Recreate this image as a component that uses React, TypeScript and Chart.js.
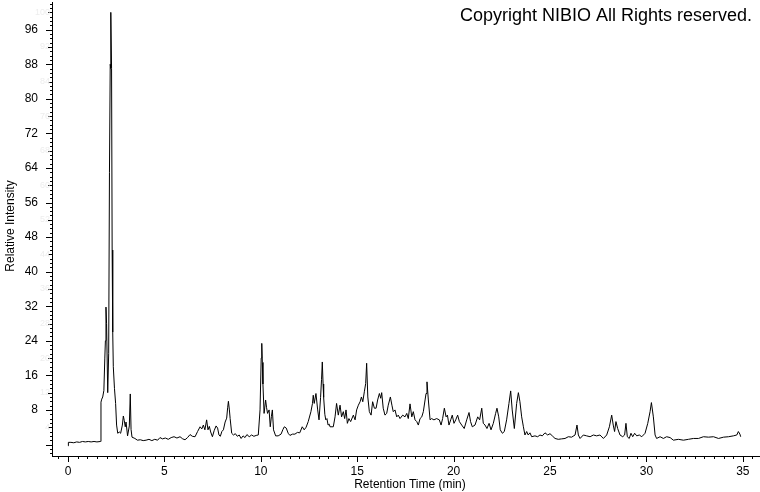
import React, { useEffect, useRef } from "react";
import { Chart, registerables } from "chart.js";

Chart.register(...registerables);

const retentionTime = [
  0.0, 0.02, 0.15, 0.3, 0.45, 0.6, 0.75, 0.9, 1.05, 1.2, 1.35, 1.5, 1.68, 1.71, 1.75, 1.8, 1.86, 1.91, 1.94, 1.97,
  2.0, 2.06, 2.11, 2.15, 2.19, 2.21, 2.23, 2.26, 2.29, 2.32, 2.35, 2.41, 2.47, 2.52, 2.58, 2.66, 2.73, 2.82, 2.87, 2.92,
  2.97, 3.01, 3.09, 3.18, 3.23, 3.27, 3.32, 3.47, 3.6, 3.75, 3.9, 4.05, 4.2, 4.35, 4.5, 4.65, 4.77, 4.9, 5.05, 5.2,
  5.35, 5.5, 5.65, 5.81, 5.95, 6.07, 6.2, 6.33, 6.45, 6.59, 6.72, 6.85, 6.94, 7.02, 7.1, 7.19, 7.26, 7.33, 7.4, 7.49,
  7.58, 7.68, 7.76, 7.83, 7.9, 7.98, 8.06, 8.15, 8.23, 8.28, 8.32, 8.37, 8.41, 8.49, 8.58, 8.68, 8.78, 8.88, 8.98, 9.08,
  9.18, 9.28, 9.4, 9.52, 9.64, 9.76, 9.87, 9.96, 10.02, 10.05, 10.08, 10.11, 10.17, 10.25, 10.3, 10.35, 10.43, 10.49, 10.55, 10.6,
  10.66, 10.77, 10.9, 11.05, 11.15, 11.22, 11.32, 11.42, 11.51, 11.64, 11.77, 11.9, 12.02, 12.15, 12.25, 12.35, 12.46, 12.6, 12.68, 12.72,
  12.77, 12.81, 12.86, 12.95, 13.02, 13.1, 13.15, 13.19, 13.23, 13.26, 13.32, 13.37, 13.43, 13.49, 13.55, 13.59, 13.76, 13.85, 13.93, 14.02,
  14.11, 14.19, 14.28, 14.35, 14.42, 14.49, 14.57, 14.66, 14.8, 14.89, 14.97, 15.06, 15.15, 15.22, 15.29, 15.37, 15.44, 15.49, 15.55, 15.63,
  15.72, 15.8, 15.89, 15.98, 16.06, 16.15, 16.22, 16.27, 16.35, 16.44, 16.53, 16.61, 16.72, 16.8, 16.87, 16.96, 17.05, 17.13, 17.22, 17.36,
  17.48, 17.57, 17.65, 17.74, 17.83, 17.91, 18.0, 18.09, 18.17, 18.26, 18.35, 18.43, 18.52, 18.57, 18.62, 18.69, 18.78, 18.86, 18.98, 19.12,
  19.26, 19.35, 19.43, 19.52, 19.61, 19.68, 19.76, 19.85, 19.93, 20.02, 20.11, 20.21, 20.3, 20.42, 20.55, 20.68, 20.8, 20.88, 20.97, 21.11,
  21.25, 21.35, 21.46, 21.54, 21.63, 21.73, 21.84, 21.94, 22.06, 22.18, 22.25, 22.34, 22.42, 22.53, 22.63, 22.75, 22.87, 22.96, 23.04, 23.15,
  23.27, 23.36, 23.44, 23.53, 23.62, 23.7, 23.79, 23.87, 23.96, 24.05, 24.22, 24.36, 24.48, 24.6, 24.74, 24.88, 25.0, 25.12, 25.26, 25.43,
  25.6, 25.78, 25.95, 26.12, 26.3, 26.4, 26.47, 26.56, 26.73, 26.9, 27.08, 27.25, 27.42, 27.59, 27.77, 27.94, 28.08, 28.2, 28.28, 28.35,
  28.42, 28.51, 28.63, 28.77, 28.87, 28.94, 29.01, 29.11, 29.2, 29.29, 29.39, 29.5, 29.63, 29.76, 29.93, 30.07, 30.19, 30.26, 30.36, 30.45,
  30.53, 30.71, 30.88, 31.05, 31.23, 31.4, 31.66, 31.92, 32.18, 32.44, 32.7, 32.96, 33.22, 33.48, 33.74, 34.0, 34.26, 34.51, 34.69, 34.77,
  34.85, 34.89,
];

const relativeIntensity = [
  -0.3, 0.5, 0.5, 0.4, 0.6, 0.5, 0.7, 0.6, 0.7, 0.6, 0.7, 0.6, 0.7, 9.8, 10.5, 11.0, 12.5, 20.0, 24.0, 31.8,
  28.0, 12.0, 21.0, 63.0, 88.0, 87.0, 100.0, 87.0, 45.0, 26.0, 18.0, 13.0, 9.5, 4.5, 2.6, 2.9, 2.6, 4.5, 6.6, 5.5,
  4.1, 5.2, 2.0, 4.3, 11.7, 3.5, 1.7, 1.4, 1.0, 1.1, 0.9, 1.0, 1.2, 0.9, 1.2, 1.0, 1.6, 1.3, 1.5, 1.2,
  1.6, 1.8, 1.5, 1.8, 1.3, 1.1, 1.6, 2.3, 1.9, 1.8, 3.0, 4.1, 3.6, 4.5, 3.4, 5.7, 3.4, 4.2, 2.9, 1.8,
  3.2, 4.3, 3.8, 2.2, 1.9, 3.0, 3.4, 5.2, 6.1, 8.5, 10.0, 8.0, 6.0, 2.6, 2.2, 2.5, 1.9, 2.2, 1.4, 2.0,
  1.6, 2.3, 1.8, 2.2, 1.9, 2.1, 2.2, 8.0, 20.0, 23.4, 19.0, 14.0, 7.2, 10.3, 8.5, 7.2, 8.0, 4.1, 6.5, 8.0,
  3.4, 2.0, 2.0, 2.4, 3.5, 4.1, 3.8, 2.6, 2.1, 2.4, 2.4, 2.8, 2.7, 4.1, 3.4, 4.0, 5.3, 7.6, 9.5, 11.4,
  9.5, 9.5, 11.8, 8.0, 5.7, 10.9, 15.0, 19.1, 14.0, 10.9, 7.0, 5.7, 6.0, 4.5, 4.7, 4.1, 4.1, 6.4, 9.5, 6.8,
  9.1, 6.4, 7.6, 6.0, 8.0, 4.9, 6.0, 5.3, 6.8, 5.7, 8.0, 9.1, 9.9, 11.0, 9.9, 12.2, 14.1, 18.8, 11.0, 7.6,
  6.8, 9.9, 8.4, 8.4, 10.3, 11.8, 10.7, 12.0, 8.4, 6.8, 7.2, 9.1, 11.0, 9.1, 7.6, 8.0, 6.4, 6.8, 6.0, 6.8,
  6.4, 7.2, 6.0, 9.4, 6.4, 7.6, 5.7, 5.3, 4.5, 6.0, 6.4, 7.6, 10.3, 11.8, 14.5, 10.3, 5.7, 6.0, 5.7, 6.0,
  5.7, 4.5, 6.0, 8.4, 6.4, 6.8, 4.5, 5.7, 6.8, 4.9, 5.7, 6.8, 5.3, 4.5, 3.7, 5.7, 7.4, 5.3, 4.1, 4.5,
  6.4, 5.7, 8.4, 4.9, 4.5, 3.7, 4.9, 3.4, 4.9, 7.2, 8.4, 6.4, 3.4, 2.6, 3.0, 5.7, 9.5, 12.4, 8.0, 3.7,
  9.5, 12.0, 9.9, 6.4, 4.1, 2.2, 3.0, 2.2, 2.7, 1.8, 2.0, 1.8, 2.2, 2.0, 2.7, 2.2, 2.5, 2.0, 1.4, 1.2,
  1.3, 1.4, 1.8, 1.7, 2.2, 4.5, 2.2, 1.4, 2.2, 2.0, 1.8, 2.2, 2.0, 2.2, 1.4, 2.2, 4.1, 6.8, 4.5, 3.0,
  5.3, 3.7, 2.2, 1.8, 2.2, 4.9, 1.8, 1.4, 2.6, 1.8, 2.6, 2.0, 2.2, 1.8, 2.6, 4.9, 7.6, 9.7, 6.4, 2.2,
  1.4, 1.8, 1.4, 1.8, 1.6, 1.0, 1.2, 1.0, 1.2, 1.4, 1.4, 1.8, 1.7, 1.8, 1.4, 1.7, 1.8, 2.0, 2.2, 3.0,
  2.4, 1.8,
];

const xTickValues = [0, 5, 10, 15, 20, 25, 30, 35];
const yTickValues = [8, 16, 24, 32, 40, 48, 56, 64, 72, 80, 88, 96];
const yGhostValues = [4, 12, 20, 28, 36, 44, 52, 60, 68, 76, 84, 92, 100];

const xTitle = "Retention Time (min)";
const yTitle = "Relative Intensity";
const copyrightText = "Copyright NIBIO All Rights reserved.";

const FONT = "'Liberation Sans', Arial, sans-serif";

const decorPlugin = {
  id: "decor",
  afterDraw(chart: any) {
    const ctx = chart.ctx;
    const xs = chart.scales.x;
    const ys = chart.scales.y;
    const area = chart.chartArea;
    ctx.save();
    ctx.strokeStyle = "#000";
    ctx.lineWidth = 1;
    ctx.beginPath();
    for (let v = Math.ceil(ys.min); v <= Math.floor(ys.max); v++) {
      const len = v % 8 === 0 ? 6 : v % 4 === 0 ? 4 : 2;
      const y = Math.round(ys.getPixelForValue(v)) + 0.5;
      ctx.moveTo(area.left - len, y);
      ctx.lineTo(area.left, y);
    }
    for (let k = Math.ceil(xs.min * 2); k <= Math.floor(xs.max * 2); k++) {
      const v = k / 2;
      const len = k % 10 === 0 ? 6 : 3;
      const x = Math.round(xs.getPixelForValue(v)) + 0.5;
      ctx.moveTo(x, area.bottom);
      ctx.lineTo(x, area.bottom + len);
    }
    ctx.stroke();

    ctx.fillStyle = "#ededed";
    ctx.font = `9px ${FONT}`;
    ctx.textAlign = "right";
    ctx.textBaseline = "middle";
    yGhostValues.forEach((v) => {
      ctx.fillText(String(v), area.left - 2, ys.getPixelForValue(v));
    });

    ctx.fillStyle = "#000";
    ctx.font = `12px ${FONT}`;
    ctx.textAlign = "center";
    ctx.textBaseline = "alphabetic";
    ctx.fillText(xTitle, 410, 488);
    ctx.save();
    ctx.translate(13.5, 226);
    ctx.rotate(-Math.PI / 2);
    ctx.fillText(yTitle, 0, 0);
    ctx.restore();

    ctx.font = `18px ${FONT}`;
    ctx.textAlign = "right";
    ctx.fillText(copyrightText, 752, 21);
    ctx.restore();
  },
};

const zeroPad = (s: any) => {
  s.paddingTop = 0;
  s.paddingBottom = 0;
  s.paddingLeft = 0;
  s.paddingRight = 0;
};

export default function App() {
  const ref = useRef<HTMLCanvasElement | null>(null);
  useEffect(() => {
    if (!ref.current) return;
    Chart.defaults.font.family = FONT;
    const data = retentionTime.map((t, i) => ({ x: t, y: relativeIntensity[i] }));
    const chart = new Chart(ref.current, {
      type: "line",
      data: {
        datasets: [
          {
            data,
            borderColor: "#000",
            borderWidth: 1,
            pointRadius: 0,
            tension: 0,
            fill: false,
          },
        ],
      },
      options: {
        animation: false,
        responsive: false,
        devicePixelRatio: 1,
        layout: { padding: { top: 2, right: 1, left: 0, bottom: 0 } },
        plugins: { legend: { display: false }, tooltip: { enabled: false }, title: { display: false } },
        scales: {
          x: {
            type: "linear",
            min: -0.83,
            max: 35.84,
            grid: { display: false, drawTicks: false },
            border: { display: true, color: "#000", width: 1 },
            afterBuildTicks: (s: any) => {
              s.ticks = xTickValues.map((v) => ({ value: v }));
            },
            afterFit: (s: any) => {
              s.height = 36;
              zeroPad(s);
            },
            ticks: {
              autoSkip: false,
              maxRotation: 0,
              minRotation: 0,
              padding: 8,
              color: "#000",
              font: { size: 12, family: FONT },
              callback: (v: any) => String(v),
            },
          },
          y: {
            type: "linear",
            min: -2.66,
            max: 102.4,
            grid: { display: false, drawTicks: false },
            border: { display: true, color: "#000", width: 1 },
            afterBuildTicks: (s: any) => {
              s.ticks = yTickValues.map((v) => ({ value: v }));
            },
            afterFit: (s: any) => {
              s.width = 52;
              zeroPad(s);
            },
            ticks: {
              autoSkip: false,
              padding: 14,
              color: "#000",
              font: { size: 12, family: FONT },
              callback: (v: any) => String(v),
            },
          },
        },
      },
      plugins: [decorPlugin],
    });
    return () => chart.destroy();
  }, []);
  return (
    <div style={{ position: "absolute", left: 0, top: 0, width: 760, height: 492, background: "#fff" }}>
      <canvas ref={ref} width={760} height={492} style={{ display: "block", width: 760, height: 492 }} />
    </div>
  );
}
